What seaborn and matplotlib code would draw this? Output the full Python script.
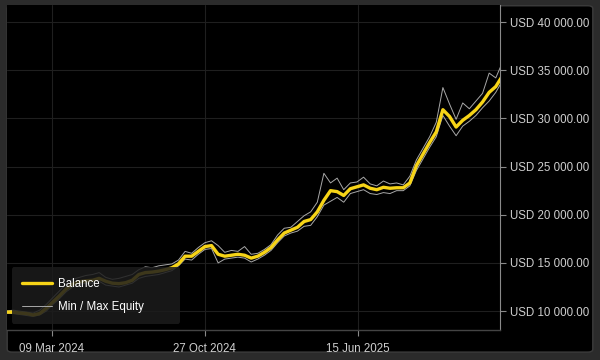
import pandas as pd
import numpy as np
import matplotlib
matplotlib.use('Agg')
import matplotlib.pyplot as plt
import matplotlib.dates as mdates
from matplotlib.patches import FancyBboxPatch
from matplotlib.ticker import FuncFormatter
import seaborn as sns

# data (one point every 10 days)
start_date = '2024-01-01'
balance = [9900, 9900, 9800, 9750, 9600, 9750, 10300, 10950, 11600, 12300,
           12800, 13050, 13150, 13200, 13400, 13100, 12900, 12850, 12950, 13200,
           13800, 14000, 14050, 14150, 14300, 14500, 14900, 15700, 15700, 16200,
           16700, 16800, 15900, 15700, 15800, 15900, 15800, 15500, 15700, 16100,
           16600, 17400, 18100, 18400, 18700, 19300, 19500, 20300, 21500, 22500,
           22400, 22000, 22700, 22900, 23100, 22750, 22600, 22850, 22750, 22800,
           22800, 23300, 25100, 26300, 27500, 28600, 30900, 30200, 29100, 29800,
           30300, 30900, 31700, 32700, 33300, 34400]
equity_max = [10000, 10100, 10000, 9900, 9800, 10100, 10700, 11400, 12100, 12800,
              13300, 13500, 13700, 13800, 14000, 13500, 13300, 13400, 13600, 13800,
              14300, 14600, 14500, 14700, 14800, 14900, 15300, 16200, 16000, 16600,
              17100, 17300, 16800, 16100, 16300, 16200, 16700, 15900, 16000, 16400,
              16900, 17900, 18600, 18700, 19300, 19900, 20300, 21300, 24300, 23300,
              23800, 22600, 23300, 23400, 23900, 23200, 23000, 23500, 23200, 23300,
              23100, 24000, 25700, 26900, 28100, 29600, 33200, 31500, 29900, 31600,
              31000, 31800, 32600, 34700, 34200, 35800]
equity_min = [9800, 9750, 9650, 9550, 9450, 9600, 10000, 10700, 11300, 12000,
              12500, 12800, 12900, 12900, 13100, 12700, 12600, 12500, 12700, 12900,
              13400, 13600, 13700, 13800, 14000, 14200, 14700, 15400, 15300, 15900,
              16400, 16500, 15000, 15400, 15500, 15600, 15500, 15100, 15400, 15800,
              16300, 17100, 17800, 18100, 18300, 18800, 18900, 19800, 21000, 21400,
              21800, 21300, 22200, 22400, 22600, 22200, 22100, 22300, 22200, 22500,
              22500, 23000, 24600, 25800, 27000, 28100, 30300, 29200, 28200, 29200,
              29700, 30300, 31100, 31800, 32700, 33900]
date_ticks = ['2024-03-09', '2024-10-27', '2025-06-15']
y_ticks = [10000, 15000, 20000, 25000, 30000, 35000, 40000]

dates = pd.date_range(start_date, periods=len(balance), freq='10D')
df = pd.DataFrame({'date': dates, 'balance': balance,
                   'eq_max': equity_max, 'eq_min': equity_min})

sns.set_style('dark')
plt.rcParams['font.family'] = ['Liberation Sans', 'DejaVu Sans']

fig = plt.figure(figsize=(6, 3.6), dpi=100, facecolor='#2b2b2b')
# black rounded panel behind the axes
panel = FancyBboxPatch((0.012, 0.022), 0.976, 0.962, boxstyle='round,pad=0,rounding_size=0.008',
                       transform=fig.transFigure, facecolor='black', edgecolor='#3c3c3c', lw=1,
                       zorder=-10)
fig.patches.append(panel)

ax = fig.add_axes([0.011, 0.083, 0.823, 0.903])
ax.set_facecolor('black')

sns.lineplot(data=df, x='date', y='eq_max', ax=ax, color='#a8a8a8', lw=0.7,
             label='Min / Max Equity', zorder=2)
sns.lineplot(data=df, x='date', y='eq_min', ax=ax, color='#a8a8a8', lw=0.7,
             label='_nolegend_', zorder=2)
sns.lineplot(data=df, x='date', y='balance', ax=ax, color='#f7d417', lw=2.4,
             label='Balance', zorder=3)

ax.set_xlim(pd.Timestamp('2024-01-01'), pd.Timestamp('2026-01-17'))
ax.set_ylim(8030, 41760)
ax.set_xticks(pd.to_datetime(date_ticks))
ax.xaxis.set_major_formatter(mdates.DateFormatter('%d %b %Y'))
ax.set_yticks(y_ticks)
ax.yaxis.set_major_formatter(FuncFormatter(lambda v, p: 'USD ' + f'{v:,.2f}'.replace(',', ' ')))
ax.yaxis.tick_right()
ax.set_xlabel('')
ax.set_ylabel('')

ax.grid(True, color='#1f1f1f', lw=0.8)
ax.tick_params(axis='both', colors='#8a8a8a', labelcolor='#cfcfcf', labelsize=8.3,
               length=4, width=0.8, direction='out')
ax.tick_params(axis='y', pad=3, right=True, left=False)
ax.tick_params(axis='x', pad=5, bottom=True)
for side in ['top', 'left']:
    ax.spines[side].set_visible(False)
ax.spines['right'].set_color('#8a8a8a')
ax.spines['bottom'].set_color('#444444')
ax.spines['right'].set_linewidth(0.8)
ax.spines['bottom'].set_linewidth(1.0)

h, l = ax.get_legend_handles_labels()
order = [l.index('Balance'), l.index('Min / Max Equity')]
leg = ax.legend([h[i] for i in order], [l[i] for i in order], loc='lower left',
                bbox_to_anchor=(0.01, 0.02, 0.342, 0.175), mode='expand', borderaxespad=0,
                fontsize=8.3, labelcolor='white', handlelength=2.6, handletextpad=0.5,
                labelspacing=1.0, borderpad=0.9, frameon=True, fancybox=True)
leg.get_frame().set_facecolor('#1c1c1c')
leg.get_frame().set_alpha(0.85)
leg.get_frame().set_edgecolor('none')
leg.set_zorder(5)

fig.savefig('out.png', dpi=100, facecolor=fig.get_facecolor())
